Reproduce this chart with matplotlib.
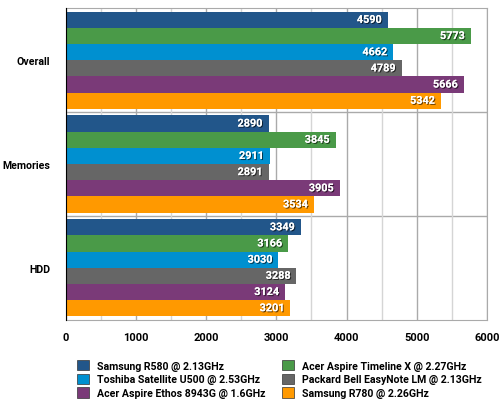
import matplotlib
matplotlib.use("Agg")
import matplotlib.pyplot as plt
import matplotlib.patheffects as pe
import numpy as np

categories = ["Overall", "Memories", "HDD"]
series = [
    "Samsung R580 @ 2.13GHz",
    "Acer Aspire Timeline X @ 2.27GHz",
    "Toshiba Satellite U500 @ 2.53GHz",
    "Packard Bell EasyNote LM @ 2.13GHz",
    "Acer Aspire Ethos 8943G @ 1.6GHz",
    "Samsung R780 @ 2.26GHz",
]
values = [
    [4590, 2890, 3349],
    [5773, 3845, 3166],
    [4662, 2911, 3030],
    [4789, 2891, 3288],
    [5666, 3905, 3124],
    [5342, 3534, 3201],
]
colors = ["#22568A", "#4A9A48", "#0090D0", "#666666", "#7A3A78", "#FF9900"]
xticks = [0, 1000, 2000, 3000, 4000, 5000, 6000]

plt.rcParams['font.family'] = ['Roboto', 'DejaVu Sans']

fig = plt.figure(figsize=(5, 4.1), dpi=100)
ax = fig.add_axes([0.131, 0.218, 0.843, 0.759])

FS = 7.6
n = len(series)
h = 0.156
for i, (name, vals, c) in enumerate(zip(series, values, colors)):
    for j, v in enumerate(vals):
        y = j + (i - (n - 1) / 2) * h
        ax.barh(y, v, height=h, color=c, zorder=3, label=name if j == 0 else None)
        ax.text(v - 85, y, str(v), ha='right', va='center', color='white',
                fontsize=FS + 0.2, fontweight='bold', zorder=4,
                path_effects=[pe.withSimplePatchShadow(offset=(0.8, -0.8), shadow_rgbFace='black', alpha=0.6), pe.Normal()])

ax.set_xlim(0, 6000)
ax.set_ylim(2.5, -0.5)
ax.set_xticks(xticks)
ax.set_xticklabels([str(t) for t in xticks], fontsize=FS + 0.4, fontweight='bold')
ax.set_xticks(np.arange(500, 6000, 1000), minor=True)
ax.set_yticks(range(len(categories)))
ax.set_yticklabels(categories, fontsize=FS, fontweight='bold')
ax.tick_params(axis='y', length=0, pad=11)
ax.tick_params(axis='x', which='both', length=0, pad=9)
ax.grid(axis='x', which='major', color='#AAAAAA', linewidth=1, zorder=0)
ax.grid(axis='x', which='minor', color='#D5D5D5', linewidth=1, zorder=0)
for yb in [0.5, 1.5]:
    ax.axhline(yb, color='#AAAAAA', linewidth=1, zorder=1)
for s in ['top', 'right', 'bottom']:
    ax.spines[s].set_color('#AAAAAA')
ax.spines['left'].set_color('black')
ax.spines['left'].set_zorder(5)

handles, labels = ax.get_legend_handles_labels()
cols = [[0, 2, 4], [1, 3, 5]]
anchors = [(0.154, 0.120), (0.564, 0.120)]
for col, anc in zip(cols, anchors):
    leg = fig.legend([handles[k] for k in col], [labels[k] for k in col],
                     loc='upper left', bbox_to_anchor=anc, ncol=1,
                     frameon=False, handlelength=1.15, handleheight=1.15,
                     labelspacing=0.28, handletextpad=0.75,
                     prop={'weight': 'bold', 'size': FS},
                     borderaxespad=0, borderpad=0)
    for p in leg.get_patches():
        p.set_edgecolor('#333333')
        p.set_linewidth(0.5)

fig.savefig("out.png", dpi=100)
